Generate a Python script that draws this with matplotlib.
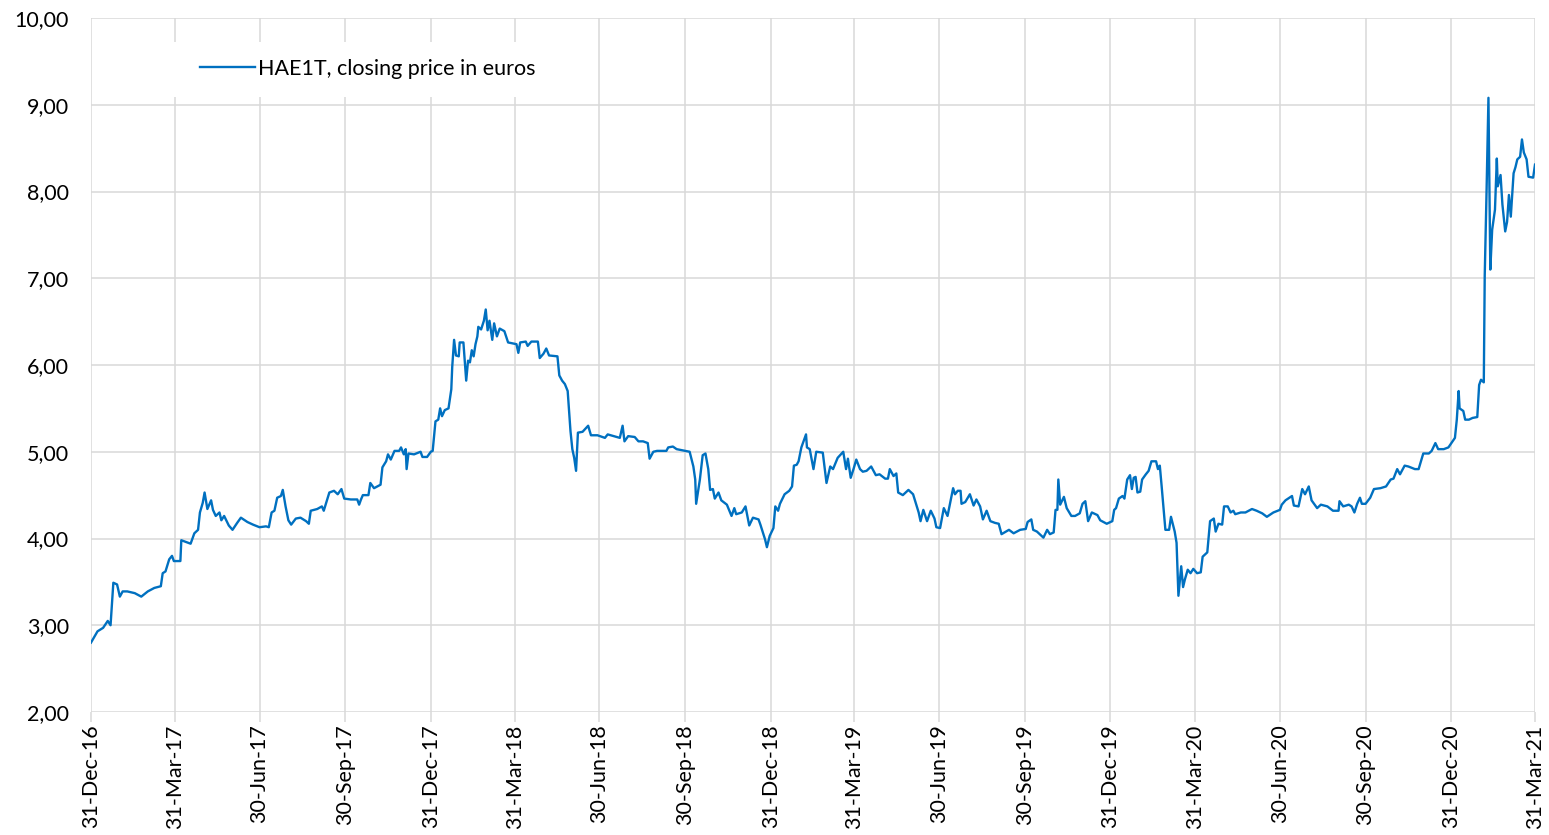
import matplotlib
matplotlib.use('Agg')
import matplotlib.pyplot as plt
from matplotlib.patches import Rectangle
from matplotlib.ticker import FuncFormatter
import pandas as pd

plt.rcParams['font.family'] = ['Lato', 'DejaVu Sans']

# день отсчёта: 31-Dec-16, значения -- смещение в днях и цена закрытия
start = pd.Timestamp('2016-12-31')
end = pd.Timestamp('2021-03-31')

days_2017 = [0, 7, 13, 18, 21, 24, 28, 31, 34, 39,
             47, 54, 61, 68, 75, 77, 80, 84, 87, 89,
             96, 97, 107, 111, 115, 117, 120, 122, 125, 129,
             131, 134, 138, 140, 143, 148, 152, 157, 161, 168,
             174, 181, 188, 191, 194, 197, 200, 204, 206, 209,
             212, 215, 220, 225, 231, 234, 236, 243, 248, 250,
             256, 261, 265, 269, 272, 279, 286, 288, 290, 292,
             298, 300, 304, 311, 313, 317, 319, 322, 326, 331,
             333, 336, 338, 339, 341, 347, 354, 356, 361, 365]
close_2017 = [2.80, 2.93, 2.97, 3.05, 3.00, 3.49, 3.47, 3.33, 3.39, 3.39,
              3.37, 3.33, 3.39, 3.43, 3.45, 3.60, 3.62, 3.76, 3.80, 3.74,
              3.74, 3.98, 3.94, 4.06, 4.10, 4.30, 4.41, 4.53, 4.34, 4.44,
              4.33, 4.26, 4.30, 4.21, 4.26, 4.15, 4.10, 4.18, 4.24, 4.19,
              4.16, 4.13, 4.14, 4.13, 4.30, 4.32, 4.47, 4.49, 4.56, 4.37,
              4.21, 4.16, 4.23, 4.24, 4.20, 4.17, 4.32, 4.34, 4.37, 4.32,
              4.53, 4.55, 4.51, 4.57, 4.46, 4.45, 4.45, 4.39, 4.45, 4.50,
              4.50, 4.64, 4.58, 4.62, 4.82, 4.89, 4.97, 4.91, 5.01, 5.01,
              5.05, 4.97, 5.03, 4.80, 4.98, 4.97, 5.00, 4.94, 4.94, 5.00]

days_2018 = [367, 370, 373, 375, 377, 380, 384, 387, 388, 390,
             392, 395, 396, 400, 403, 405, 407, 409, 411, 413,
             415, 416, 419, 422, 424, 426, 428, 431, 433, 436,
             439, 444, 448, 457, 459, 461, 467, 469, 473, 480,
             482, 486, 489, 492, 501, 503, 506, 509, 512, 515,
             517, 519, 521, 523, 528, 534, 537, 544, 552, 555,
             568, 571, 573, 577, 584, 588, 593, 598, 600, 604,
             608, 618, 620, 625, 629, 643, 647, 649, 650, 654,
             657, 660, 663, 665, 668, 670, 674, 677, 683, 688,
             691, 693, 699, 703, 707, 711, 717, 719, 724, 726,
             729]
close_2018 = [5.01, 5.35, 5.37, 5.50, 5.41, 5.48, 5.50, 5.72, 5.98, 6.29,
              6.11, 6.10, 6.26, 6.26, 5.82, 6.05, 6.03, 6.17, 6.10, 6.24,
              6.33, 6.44, 6.41, 6.51, 6.64, 6.40, 6.51, 6.29, 6.48, 6.33,
              6.42, 6.39, 6.26, 6.24, 6.14, 6.26, 6.27, 6.22, 6.27, 6.27,
              6.08, 6.13, 6.19, 6.11, 6.10, 5.88, 5.82, 5.78, 5.70, 5.24,
              5.03, 4.93, 4.78, 5.22, 5.23, 5.30, 5.19, 5.19, 5.16, 5.20,
              5.16, 5.30, 5.12, 5.18, 5.17, 5.12, 5.12, 5.10, 4.92, 5.00,
              5.01, 5.01, 5.05, 5.06, 5.03, 5.00, 4.83, 4.68, 4.40, 4.68,
              4.96, 4.98, 4.80, 4.56, 4.57, 4.46, 4.53, 4.44, 4.39, 4.26,
              4.35, 4.28, 4.30, 4.37, 4.15, 4.24, 4.22, 4.16, 3.99, 3.90,
              4.03]

days_2019 = [733, 735, 738, 740, 745, 750, 753, 755, 758, 760,
             763, 768, 769, 772, 776, 779, 786, 790, 794, 797,
             802, 808, 811, 813, 816, 819, 822, 826, 829, 833,
             838, 843, 847, 853, 856, 858, 862, 865, 867, 872,
             878, 883, 889, 891, 894, 898, 902, 906, 908, 912,
             916, 920, 926, 928, 931, 934, 935, 939, 944, 948,
             951, 955, 958, 962, 966, 971, 975, 978, 986, 991,
             998, 1004, 1006, 1010, 1012, 1016, 1023, 1027, 1030, 1034,
             1036, 1038, 1039, 1041, 1045, 1048, 1053, 1057, 1062, 1065,
             1068, 1071, 1075, 1081, 1084, 1091]
close_2019 = [4.12, 4.37, 4.32, 4.40, 4.51, 4.55, 4.60, 4.84, 4.85, 4.89,
              5.05, 5.20, 5.05, 5.03, 4.80, 5.00, 4.99, 4.64, 4.83, 4.80,
              4.93, 5.00, 4.80, 4.92, 4.70, 4.80, 4.91, 4.80, 4.77, 4.78,
              4.83, 4.73, 4.74, 4.69, 4.69, 4.80, 4.72, 4.75, 4.53, 4.50,
              4.56, 4.51, 4.30, 4.20, 4.33, 4.20, 4.32, 4.23, 4.13, 4.12,
              4.35, 4.26, 4.58, 4.51, 4.55, 4.55, 4.40, 4.42, 4.51, 4.38,
              4.45, 4.37, 4.22, 4.32, 4.20, 4.18, 4.17, 4.05, 4.10, 4.06,
              4.10, 4.11, 4.19, 4.22, 4.10, 4.08, 4.01, 4.10, 4.05, 4.07,
              4.33, 4.33, 4.68, 4.39, 4.48, 4.35, 4.26, 4.26, 4.29, 4.40,
              4.43, 4.20, 4.30, 4.27, 4.21, 4.17]

days_2020 = [1097, 1099, 1101, 1104, 1108, 1110, 1113, 1116, 1118, 1120,
             1122, 1124, 1127, 1129, 1133, 1136, 1139, 1144, 1146, 1148,
             1150, 1154, 1158, 1160, 1164, 1166, 1168, 1171, 1173, 1175,
             1178, 1181, 1184, 1188, 1192, 1194, 1199, 1202, 1206, 1208,
             1211, 1215, 1217, 1221, 1224, 1227, 1229, 1235, 1240, 1247,
             1252, 1258, 1263, 1270, 1277, 1279, 1283, 1290, 1292, 1297,
             1301, 1304, 1308, 1311, 1317, 1321, 1328, 1334, 1340, 1341,
             1345, 1351, 1354, 1357, 1360, 1363, 1365, 1369, 1374, 1378,
             1385, 1391, 1396, 1399, 1403, 1406, 1411, 1415, 1422, 1426,
             1431, 1437, 1440, 1444, 1447, 1453, 1458]
close_2020 = [4.20, 4.33, 4.35, 4.46, 4.49, 4.46, 4.68, 4.73, 4.57, 4.70,
              4.71, 4.53, 4.54, 4.68, 4.74, 4.78, 4.89, 4.89, 4.80, 4.84,
              4.60, 4.10, 4.10, 4.25, 4.08, 3.95, 3.34, 3.68, 3.44, 3.53,
              3.64, 3.60, 3.65, 3.60, 3.61, 3.79, 3.84, 4.20, 4.23, 4.08,
              4.17, 4.16, 4.37, 4.37, 4.30, 4.32, 4.28, 4.30, 4.30, 4.34,
              4.32, 4.29, 4.25, 4.30, 4.33, 4.39, 4.44, 4.49, 4.38, 4.37,
              4.57, 4.51, 4.60, 4.44, 4.35, 4.39, 4.37, 4.32, 4.32, 4.43,
              4.37, 4.39, 4.37, 4.30, 4.40, 4.47, 4.40, 4.40, 4.47, 4.57,
              4.58, 4.60, 4.68, 4.69, 4.80, 4.74, 4.84, 4.83, 4.80, 4.80,
              4.98, 4.98, 5.01, 5.10, 5.03, 5.03, 5.05]

days_2021 = [1465, 1467, 1469, 1470, 1474, 1476, 1480, 1484, 1489, 1491,
             1493, 1496, 1497, 1499, 1501, 1503, 1505, 1508, 1510, 1511,
             1514, 1516, 1519, 1521, 1523, 1525, 1528, 1530, 1532, 1535,
             1537, 1539, 1542, 1544, 1549, 1551]
close_2021 = [5.16, 5.37, 5.70, 5.50, 5.47, 5.37, 5.37, 5.39, 5.40, 5.77,
              5.83, 5.80, 7.03, 8.02, 9.08, 7.10, 7.56, 7.79, 8.38, 8.06,
              8.19, 7.85, 7.54, 7.65, 7.96, 7.71, 8.21, 8.28, 8.37, 8.40,
              8.60, 8.45, 8.37, 8.17, 8.16, 8.31]

tick_dates = ['2016-12-31', '2017-03-31', '2017-06-30', '2017-09-30',
              '2017-12-31', '2018-03-31', '2018-06-30', '2018-09-30',
              '2018-12-31', '2019-03-31', '2019-06-30', '2019-09-30',
              '2019-12-31', '2020-03-31', '2020-06-30', '2020-09-30',
              '2020-12-31', '2021-03-31']

series_label = 'HAE1T, closing price in euros'

days = days_2017 + days_2018 + days_2019 + days_2020 + days_2021
close = close_2017 + close_2018 + close_2019 + close_2020 + close_2021
dates = start + pd.to_timedelta(days, unit='D')

W, H = 1549, 835
fig = plt.figure(figsize=(W / 100, H / 100), dpi=100)
ax = fig.add_axes([91 / W, 1 - 712 / H, 1444 / W, 694 / H])

ax.plot(dates, close, color='#0070c0', lw=1.7, label=series_label, zorder=3)

ax.set_xlim(start, end)
ax.set_ylim(2, 10)
ax.set_yticks(range(2, 11))
ax.yaxis.set_major_formatter(FuncFormatter(lambda v, p: f'{v:.2f}'.replace('.', ',')))

ticks = pd.to_datetime(tick_dates)
ax.set_xticks(ticks)
ax.set_xticklabels([d.strftime('%d-%b-%y') for d in ticks], rotation=90)

ax.grid(True, color='#d9d9d9', lw=1.1)
ax.set_axisbelow(True)
for s in ax.spines.values():
    s.set_visible(False)
ax.tick_params(axis='x', length=7, color='#d9d9d9', width=1.1, pad=2, labelsize=15.5)
ax.tick_params(axis='y', length=0, pad=16, labelsize=15.5)

# белая подложка легенды поверх сетки
ax.add_patch(Rectangle((0.041, 0.886), 0.284, 0.079, transform=ax.transAxes,
                       facecolor='white', edgecolor='none', zorder=1))
ax.legend(loc='center left', bbox_to_anchor=((200 - 91) / 1444, (712 - 69) / 694),
          frameon=False, handlelength=2.55, handletextpad=0.15,
          borderpad=0, borderaxespad=0, fontsize=15.5)

fig.savefig('out.png', dpi=100)
